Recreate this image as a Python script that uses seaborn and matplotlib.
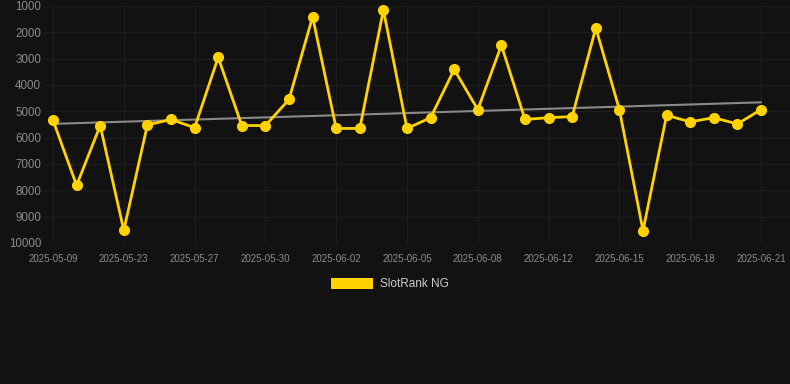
import numpy as np
import pandas as pd
import matplotlib
matplotlib.use("Agg")
import matplotlib.pyplot as plt
import seaborn as sns
from matplotlib.patches import Patch

dates = ["2025-05-09", "2025-05-10", "2025-05-22", "2025-05-23", "2025-05-24", "2025-05-25",
         "2025-05-27", "2025-05-28", "2025-05-29", "2025-05-30", "2025-05-31", "2025-06-01",
         "2025-06-02", "2025-06-03", "2025-06-04", "2025-06-05", "2025-06-06", "2025-06-07",
         "2025-06-08", "2025-06-09", "2025-06-10", "2025-06-12", "2025-06-13", "2025-06-14",
         "2025-06-15", "2025-06-16", "2025-06-17", "2025-06-18", "2025-06-19", "2025-06-20",
         "2025-06-21"]
ranks = [5340, 7810, 5540, 9520, 5515, 5310, 5620, 2950, 5540, 5540, 4550, 1410,
         5650, 5650, 1150, 5650, 5240, 3410, 4935, 2490, 5310, 5240, 5200, 1830,
         4935, 9530, 5150, 5400, 5240, 5480, 4935]
yticks = [1000, 2000, 3000, 4000, 5000, 6000, 7000, 8000, 9000, 10000]
series_name = "SlotRank NG"

BG = "#121212"
GOLD = "#FFD200"

sns.set_theme(style="dark")
plt.rcParams['font.family'] = ['Liberation Sans', 'DejaVu Sans']

df = pd.DataFrame({"pos": np.arange(len(dates)), "date": dates, "rank": ranks})

W, H = 790, 384
fig = plt.figure(figsize=(W / 100, H / 100), dpi=100, facecolor=BG)
left, right, top, bottom = 44, 790, 6, 243
ax = fig.add_axes([left / W, 1 - bottom / H, (right - left) / W, (bottom - top) / H])
ax.set_facecolor(BG)

sns.regplot(data=df, x="pos", y="rank", scatter=False, ci=None, truncate=True,
            color="#8a8a8a", line_kws={"linewidth": 1.5, "zorder": 2}, ax=ax)
sns.lineplot(data=df, x="pos", y="rank", color=GOLD, linewidth=2.0, marker="o",
             markersize=8, markeredgewidth=0, ax=ax, zorder=3, clip_on=False)

spacing = (761 - 53) / 30
ax.set_xlim(-(53 - left) / spacing, 30 + (right - 761) / spacing)
ax.set_ylim(10000, 1000)
ax.set_yticks(yticks)
ax.set_yticklabels([str(v) for v in yticks])
ax.set_xticks(df["pos"][::3])
ax.set_xticklabels(df["date"][::3])

ax.grid(True, color="#1f1f1f", linewidth=0.8)
ax.tick_params(axis="y", length=0, pad=2, labelsize=8.3, labelcolor="#8c8c8c")
ax.tick_params(axis="x", length=0, pad=8, labelsize=7, labelcolor="#8c8c8c")
for s in ax.spines.values():
    s.set_visible(False)
ax.set_xlabel("")
ax.set_ylabel("")

handle = Patch(facecolor=GOLD, edgecolor="none")
fig.legend([handle], [series_name], loc="center", bbox_to_anchor=(390 / W, 1 - 284 / H),
           frameon=False, fontsize=8.5, labelcolor="#cccccc", handlelength=3.6,
           handleheight=1.1, handletextpad=0.6)

fig.savefig("out.png", dpi=100, facecolor=BG)
